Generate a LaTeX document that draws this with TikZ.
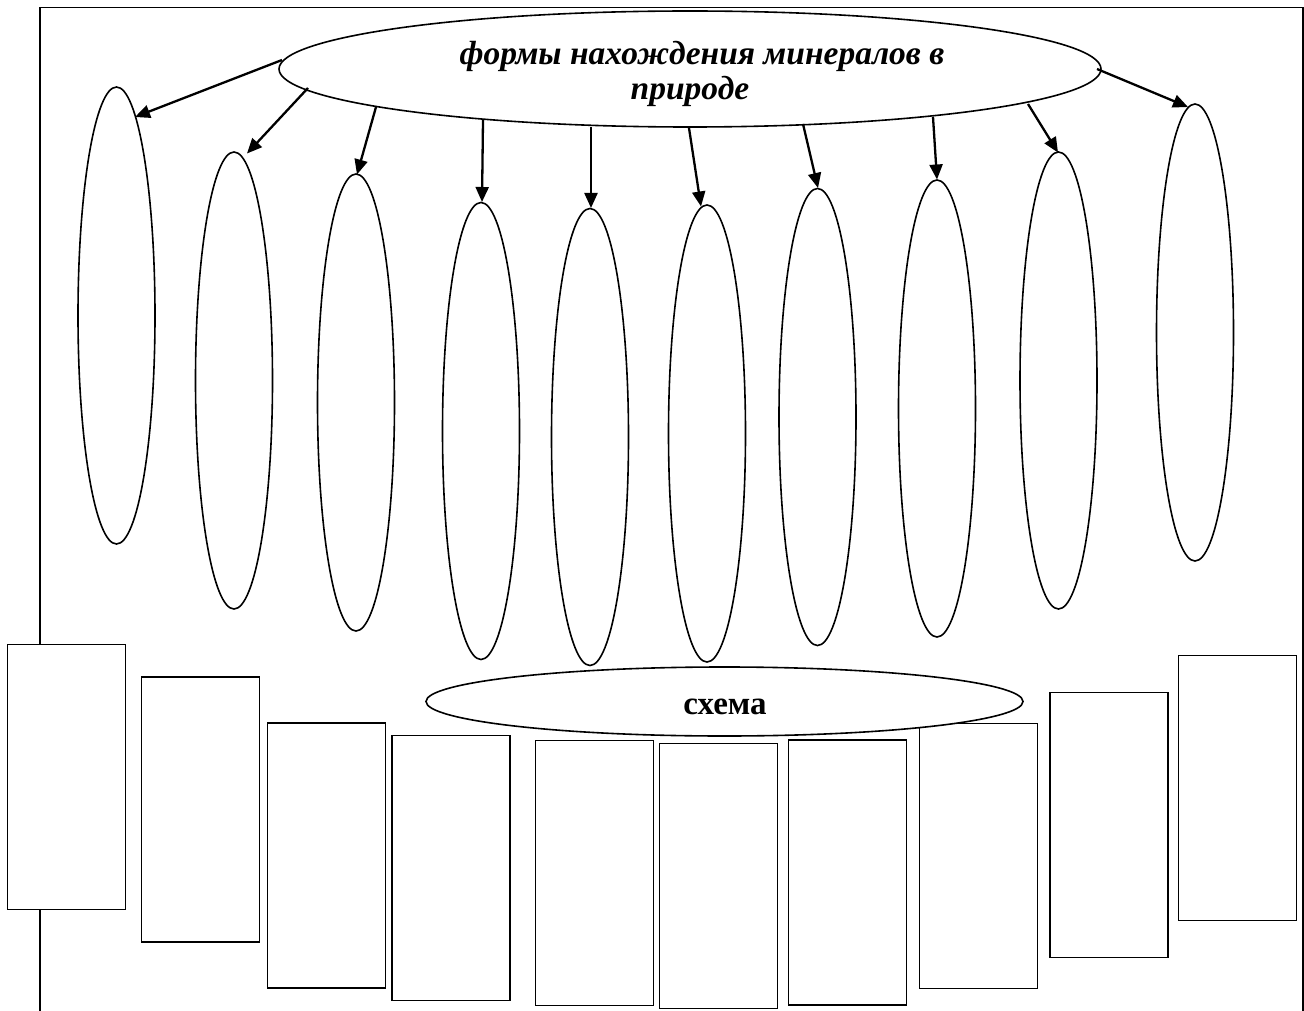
\documentclass[tikz,border=0pt]{standalone}
\usepackage{fontspec}
\setmainfont{Liberation Serif}
\usetikzlibrary{shapes.geometric,arrows.meta,calc}
\begin{document}
\begin{tikzpicture}[x=1pt,y=-1pt,
  frameline/.style={line width=1.8pt},
  oval/.style={ellipse, draw, line width=1.6pt, inner sep=0pt,
               minimum width=77pt, minimum height=457pt},
  bigoval/.style={ellipse, draw, fill=white, line width=1.6pt, inner sep=0pt},
  card/.style={rectangle, draw, fill=white, line width=1.8pt, inner sep=0pt,
               minimum width=118pt, minimum height=265pt},
  link/.style={line width=2.3pt, -{Triangle[length=15pt,width=13pt]}},
  titlefont/.style={font=\fontsize{33.5}{36}\selectfont\bfseries\itshape, inner sep=0pt, anchor=base},
  labelfont/.style={font=\fontsize{33}{36}\selectfont\bfseries, inner sep=0pt, anchor=base}]

\useasboundingbox (0,0) rectangle (1304,1011);

% open frame around the sheet
\draw[frameline] (40,1011) -- (40,7.5) -- (1302.7,7.5) -- (1302.7,1011);

% the ten empty ovals
\node[oval] (e1)  at (116.5,315.5) {};
\node[oval] (e2)  at (234,380.5) {};
\node[oval] (e3)  at (356,402.5) {};
\node[oval] (e4)  at (481,431) {};
\node[oval] (e5)  at (590,437) {};
\node[oval] (e6)  at (707,433.5) {};
\node[oval] (e7)  at (817.5,417) {};
\node[oval] (e8)  at (937,408.5) {};
\node[oval] (e9)  at (1058.5,380.5) {};
\node[oval] (e10) at (1195,332.5) {};

% heading oval
\node[bigoval, minimum width=822pt, minimum height=116pt] (top) at (690,69) {};
\node[titlefont] (title1) at (702,65) {формы нахождения минералов в};
\node[titlefont] (title2) at (690,100) {природе};

% arrows from the rim of the heading to the tops of the ovals
\draw[link] ($(top)+(-408,-9)$) -- ($(e1)+(18.5,-198.5)$);
\draw[link] ($(top)+(-382,19)$) -- ($(e2)+(13,-227)$);
\draw[link] ($(top)+(-314,38)$) -- ($(e3)+(1,-228)$);
\draw[link] ($(top)+(-207,51)$) -- ($(e4)+(1,-229)$);
\draw[link] ($(top)+(-99,58)$)  -- ($(e5)+(1,-229)$);
\draw[link] ($(top)+(-1,59)$)   -- ($(e6)+(-6,-227)$);
\draw[link] ($(top)+(113,55)$)  -- ($(e7)+(0.5,-229)$);
\draw[link] ($(top)+(243,48)$)  -- ($(e8)+(0,-229)$);
\draw[link] ($(top)+(338,35)$)  -- ($(e9)+(-0.5,-228)$);
\draw[link] ($(top)+(407,0)$)   -- ($(e10)+(-7,-225.5)$);

% the ten empty cards
\node[card] (b1)  at (66.5,777) {};
\node[card] (b2)  at (200.5,809.5) {};
\node[card] (b3)  at (326.5,855.5) {};
\node[card] (b4)  at (451,868) {};
\node[card] (b5)  at (594.5,873) {};
\node[card] (b6)  at (718.5,876) {};
\node[card] (b7)  at (847.5,872.5) {};
\node[card] (b8)  at (978.5,856) {};
\node[card] (b9)  at (1109,825) {};
\node[card] (b10) at (1237.5,788) {};

% the scheme oval over the cards
\node[bigoval, minimum width=597pt, minimum height=69pt] (scheme) at (724.5,701.5) {};
\node[labelfont] (schemelabel) at (725,714) {схема};

\end{tikzpicture}
\end{document}
